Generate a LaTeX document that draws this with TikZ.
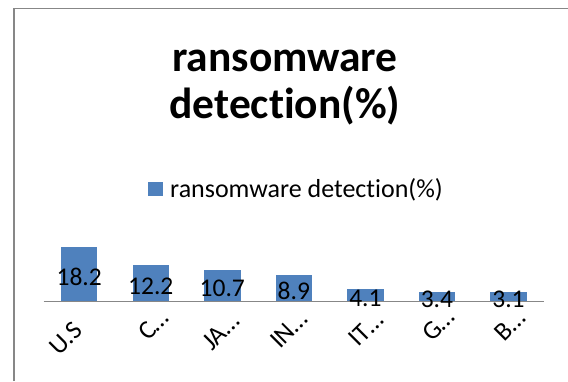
\documentclass[tikz,border=0pt]{standalone}
\usepackage{fontspec}
\setmainfont{Carlito}[Ligatures=NoCommon]
\definecolor{barblue}{HTML}{4F81BD}
\definecolor{framegray}{HTML}{878787}

\begin{document}
\begin{tikzpicture}[x=1pt,y=-1pt,
    bar/.style={fill=barblue},
    val/.style={inner sep=0pt,font=\fontsize{25.5}{30}\selectfont},
    cat/.style={inner sep=0pt,rotate=45,anchor=base west,font=\fontsize{26}{30}\selectfont}]
  \useasboundingbox (0,0) rectangle (568,381);
  % frame of the chart area
  \draw[framegray,line width=1.5pt] (13.8,381) -- (13.8,8.5) -- (568,8.5);
  % title
  \node[anchor=base,inner sep=0pt,font=\fontsize{43.5}{46}\bfseries] (title1) at (285,71) {ransomware};
  \node[anchor=base,inner sep=0pt,font=\fontsize{43.5}{46}\bfseries] (title2) at (285,118.3) {detection(\%)};
  % legend
  \fill[bar] (148.3,181.7) rectangle (162.7,195.7);
  \node[anchor=base west,inner sep=0pt,font=\fontsize{26}{30}\selectfont] (legend) at (170,197) {ransomware detection(\%)};
  % bars
  \foreach \n/\x/\v in {us/79.2/18.2, c/150.75/12.2, ja/222.3/10.7, in/293.85/8.9,
                        it/365.4/4.1, g/436.95/3.4, b/508.5/3.1}
    \fill[bar] ({\x-18.2},301.7) rectangle ({\x+18.2},{301.7-2.99*\v});
  % axis
  \draw[framegray,line width=1.5pt] (43.5,301.7) coordinate (axl) -- (544,301.7) coordinate (axr);
  % values
  \foreach \n/\x/\v in {us/79.2/18.2, c/150.75/12.2, ja/222.3/10.7, in/293.85/8.9,
                        it/365.4/4.1, g/436.95/3.4, b/508.5/3.1}
    \node[val] (v\n) at (\x,{301.7-1.495*\v+2.5}) {\v};
  % categories
  \node[cat] (cus) at (59,357) {U.S};
  \node[cat] (cc) at (148,342) {C…};
  \node[cat] (cja) at (212,352) {JA…};
  \node[cat] (cin) at (280,350) {IN…};
  \node[cat] (cit) at (358.5,348) {IT…};
  \node[cat] (cg) at (432,343) {G…};
  \node[cat] (cb) at (504,343) {B…};
\end{tikzpicture}
\end{document}
